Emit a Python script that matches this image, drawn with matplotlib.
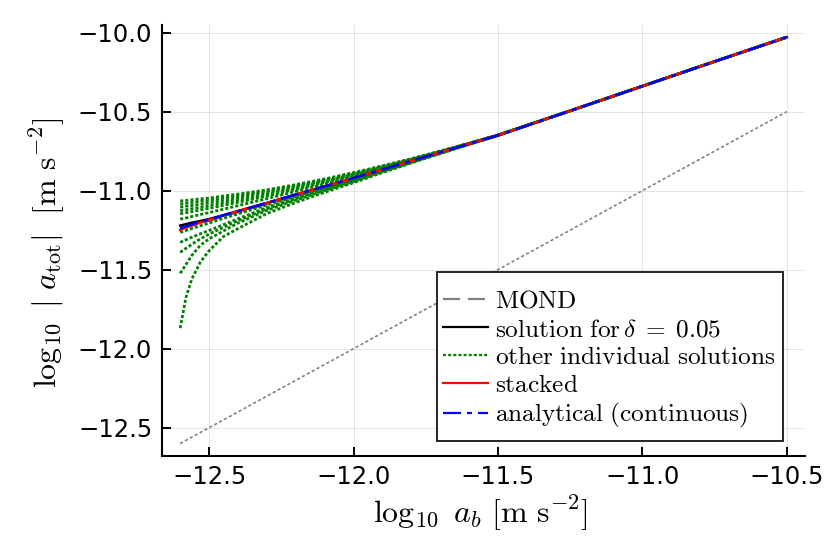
import matplotlib
matplotlib.use("Agg")
import matplotlib.pyplot as plt
from matplotlib.lines import Line2D
from matplotlib.patches import Rectangle

plt.rcParams['mathtext.fontset'] = 'cm'
plt.rcParams['font.family'] = ['DejaVu Sans']
plt.rcParams['lines.scale_dashes'] = False

# ---- data ----
xs = [-12.6, -12.58, -12.56, -12.53, -12.5, -12.45, -12.4, -12.3, -12.2, -12.1,
      -12.0, -11.9, -11.8, -11.7, -11.6, -11.5, -11.25, -11.0, -10.75, -10.5]

analytical = [-11.238, -11.226, -11.214, -11.198, -11.183, -11.156, -11.130, -11.078, -11.025, -10.973,
              -10.920, -10.866, -10.812, -10.758, -10.704, -10.650, -10.495, -10.339, -10.183, -10.029]
stacked = [-11.248, -11.234, -11.220, -11.202, -11.185, -11.157, -11.130, -11.078, -11.025, -10.973,
           -10.920, -10.866, -10.812, -10.758, -10.704, -10.650, -10.495, -10.339, -10.183, -10.029]
solution_005 = [-11.221, -11.212, -11.203, -11.192, -11.180, -11.155, -11.129, -11.078, -11.025, -10.973,
                -10.920, -10.866, -10.812, -10.758, -10.704, -10.650, -10.495, -10.339, -10.183, -10.029]
mond = [-11.243, -11.233, -11.222, -11.206, -11.191, -11.164, -11.138, -11.086, -11.033, -10.980,
        -10.925, -10.868, -10.813, -10.758, -10.704, -10.650, -10.495, -10.339, -10.183, -10.029]

newton_x = [-12.6, -10.5]
newton_y = [-12.6, -10.5]

tail = [-10.495, -10.339, -10.183, -10.029]
other_1 = [-11.065, -11.062, -11.058, -11.052, -11.047, -11.034, -11.022, -10.995, -10.962, -10.926,
           -10.886, -10.843, -10.798, -10.750, -10.700, -10.648] + tail
other_2 = [-11.084, -11.080, -11.075, -11.068, -11.062, -11.047, -11.034, -11.004, -10.969, -10.931,
           -10.890, -10.846, -10.800, -10.751, -10.700, -10.648] + tail
other_3 = [-11.104, -11.099, -11.094, -11.086, -11.078, -11.062, -11.047, -11.014, -10.976, -10.937,
           -10.894, -10.848, -10.801, -10.752, -10.701, -10.648] + tail
other_4 = [-11.126, -11.121, -11.114, -11.105, -11.096, -11.078, -11.061, -11.025, -10.985, -10.943,
           -10.898, -10.851, -10.803, -10.753, -10.701, -10.649] + tail
other_5 = [-11.146, -11.140, -11.133, -11.122, -11.112, -11.093, -11.074, -11.035, -10.992, -10.949,
           -10.902, -10.854, -10.805, -10.754, -10.702, -10.649] + tail
other_6 = [-11.180, -11.173, -11.164, -11.151, -11.139, -11.117, -11.095, -11.051, -11.005, -10.958,
           -10.909, -10.859, -10.808, -10.755, -10.703, -10.650] + tail
other_7 = [-11.264, -11.252, -11.240, -11.222, -11.205, -11.175, -11.147, -11.091, -11.035, -10.981,
           -10.926, -10.870, -10.815, -10.760, -10.705, -10.650] + tail
other_8 = [-11.327, -11.311, -11.295, -11.273, -11.252, -11.215, -11.178, -11.107, -11.046, -10.988,
           -10.932, -10.873, -10.817, -10.761, -10.705, -10.650] + tail
other_9 = [-11.390, -11.365, -11.340, -11.305, -11.275, -11.232, -11.190, -11.115, -11.052, -10.993,
           -10.936, -10.876, -10.819, -10.762, -10.706, -10.651] + tail
other_10 = [-11.523, -11.467, -11.410, -11.345, -11.305, -11.255, -11.205, -11.125, -11.060, -11.000,
            -10.942, -10.880, -10.822, -10.764, -10.707, -10.651] + tail
other_11 = [-11.870, -11.676, -11.560, -11.452, -11.380, -11.290, -11.240, -11.145, -11.075, -11.011,
            -10.950, -10.886, -10.825, -10.766, -10.708, -10.652] + tail
others = [other_1, other_2, other_3, other_4, other_5, other_6,
          other_7, other_8, other_9, other_10, other_11]

xticks = [-12.5, -12.0, -11.5, -11.0, -10.5]
yticks = [-12.5, -12.0, -11.5, -11.0, -10.5, -10.0]

labels = [r"$\mathrm{MOND}$",
          r"$\mathrm{solution\ for}\,\delta\;=\;0.05$",
          r"$\mathrm{other\ individual\ solutions}$",
          r"$\mathrm{stacked}$",
          r"$\mathrm{analytical\ (continuous)}$"]

xlabel = r"$\log_{10}\ a_b\ [\mathrm{m\ s}^{-2}]$"
ylabel = r"$\log_{10}\ |\ a_{\mathrm{tot}}|\ \ [\mathrm{m\ s}^{-2}]$"

# ---- styles ----
GRAY = (0.5, 0.5, 0.5)
GREEN = (0.0, 0.5, 0.0)
dot_green = (0, (2.2, 1.5))
dot_gray = (0, (2.2, 1.8))
dash_gray = (0, (12.2, 5.8))
dashdot_blue = (0, (13.0, 4.3, 3.6, 4.3))

W, H = 830, 554
fig = plt.figure(figsize=(8.3, 5.54), dpi=100)
ax = fig.add_axes([162/W, 1 - 455.7/H, (805 - 162)/W, (455.7 - 25)/H])

ax.plot(newton_x, newton_y, color=GRAY, lw=1.2, linestyle=dot_gray)
ax.plot(xs, mond, color=GRAY, lw=1.6, linestyle=dash_gray)
ax.plot(xs, solution_005, color='black', lw=1.8)
for ys in others:
    ax.plot(xs, ys, color=GREEN, lw=2.0, linestyle=dot_green)
ax.plot(xs, stacked, color='red', lw=1.8)
ax.plot(xs, analytical, color='blue', lw=1.8, linestyle=dashdot_blue)

ax.set_xlim(-12.663, -10.437)
ax.set_ylim(-12.677, -9.952)
ax.set_xticks(xticks)
ax.set_yticks(yticks)
ax.set_xticklabels([f"{v:.1f}".replace('-', '\u2212') for v in xticks])
ax.set_yticklabels([f"{v:.1f}".replace('-', '\u2212') for v in yticks])
ax.tick_params(direction='in', length=6.5, width=1.4, labelsize=17.5, pad=7)
ax.grid(True, color='black', alpha=0.1, lw=0.8)
for s in ['top', 'right']:
    ax.spines[s].set_visible(False)
for s in ['left', 'bottom']:
    ax.spines[s].set_linewidth(1.5)

ax.set_xlabel(xlabel, fontsize=23)
ax.set_ylabel(ylabel, fontsize=23)
ax.xaxis.set_label_coords(0.496, -0.088)
ax.yaxis.set_label_coords(-0.148, 0.47)

handles = [
    Line2D([], [], color=GRAY, lw=1.6, linestyle=dash_gray),
    Line2D([], [], color='black', lw=1.6),
    Line2D([], [], color=GREEN, lw=1.6, linestyle=dot_green),
    Line2D([], [], color='red', lw=1.6),
    Line2D([], [], color='blue', lw=1.6, linestyle=dashdot_blue),
]
fs_leg = 18.2
fs_px = fs_leg * 100 / 72
leg = fig.legend(handles, labels, loc='upper left', bbox_to_anchor=(443/W, 1 - 289/H),
                 bbox_transform=fig.transFigure, fontsize=fs_leg, frameon=False,
                 borderaxespad=0, borderpad=0, handlelength=45/fs_px,
                 handletextpad=7/fs_px, labelspacing=0.16)
fig.patches.append(Rectangle((437/W, 1 - 441/H), (783 - 437)/W, (441 - 272)/H,
                             transform=fig.transFigure, facecolor='white', edgecolor='black',
                             lw=1.2, zorder=4))
leg.set_zorder(5)

fig.savefig("out.png", dpi=100)
